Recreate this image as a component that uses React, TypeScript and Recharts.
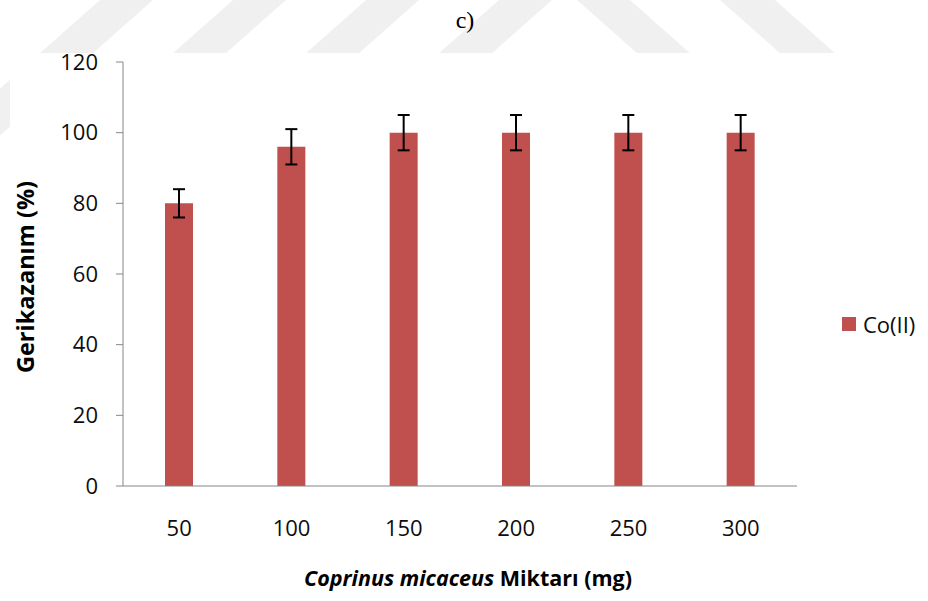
import { BarChart, Bar, XAxis, YAxis, ErrorBar, Legend } from 'recharts';

// Co(II) recovery per biosorbent amount
const amounts = ['50', '100', '150', '200', '250', '300'];
const recovery = [80, 96, 100, 100, 100, 100];
const recoveryErr = [4, 5, 5, 5, 5, 5];
const yTicks = [0, 20, 40, 60, 80, 100, 120];

const data = amounts.map((amount, i) => ({
  amount,
  co: recovery[i],
  err: recoveryErr[i],
}));

const BAR_COLOR = '#c0504d';
const AXIS_COLOR = '#868686';
const TEXT_COLOR = '#0d0d0d';
const FONT = '"Open Sans", "Noto Sans", sans-serif';

// faint diagonal watermark bands behind the figure
const band = (x0: number, x1: number, dir: number) => {
  const dx = 158 * dir;
  return `${x0},0 ${x1},0 ${x1 + dx},140 ${x0 + dx},140`;
};
const watermark = [
  band(100, 153, -1),
  band(233, 286, -1),
  band(366, 419, -1),
  band(499, 552, -1),
  band(577, 630, 1),
  band(720, 775, 1),
];

const CoLegend = () => (
  <div style={{ display: 'flex', alignItems: 'center', fontFamily: FONT }}>
    <span style={{ display: 'inline-block', width: 14, height: 14, background: BAR_COLOR, marginRight: 7 }} />
    <span style={{ fontSize: 22, color: TEXT_COLOR }}>Co(II)</span>
  </div>
);

export default function App() {
  return (
    <div
      style={{
        position: 'absolute',
        left: 0,
        top: 0,
        width: 928,
        height: 601,
        background: '#fff',
        overflow: 'hidden',
        fontFamily: FONT,
      }}
    >
      <svg width={928} height={601} style={{ position: 'absolute', left: 0, top: 0 }}>
        {watermark.map((pts, i) => (
          <polygon key={i} points={pts} fill="#f0f0f0" />
        ))}
        <rect x={10} y={53} width={918} height={548} fill="#fff" />
        <text
          x={465}
          y={28}
          textAnchor="middle"
          fontFamily='"Liberation Serif", "Times New Roman", serif'
          fontSize={24}
          fill="#000"
        >
          c)
        </text>
      </svg>
      <div style={{ position: 'absolute', left: 0, top: 0 }}>
        <BarChart
          width={928}
          height={601}
          data={data}
          margin={{ top: 62, right: 131, bottom: 85, left: 63 }}
        >
          <XAxis
            dataKey="amount"
            height={30}
            tickLine={false}
            tickSize={6}
            tickMargin={28}
            axisLine={{ stroke: AXIS_COLOR }}
            tick={{ fill: TEXT_COLOR, fontSize: 22, fontFamily: FONT }}
            label={{
              content: () => (
                <text
                  x={468}
                  y={586}
                  textAnchor="middle"
                  fontSize={21.5}
                  fontWeight="bold"
                  fill="#000"
                  fontFamily={FONT}
                >
                  <tspan fontStyle="italic">Coprinus micaceus</tspan> Miktarı (mg)
                </text>
              ),
            }}
          />
          <YAxis
            domain={[0, 120]}
            ticks={yTicks}
            interval={0}
            width={60}
            tickSize={7}
            tickMargin={18}
            axisLine={{ stroke: AXIS_COLOR }}
            tickLine={{ stroke: AXIS_COLOR }}
            tick={{ fill: TEXT_COLOR, fontSize: 22, fontFamily: FONT }}
            label={{
              content: () => (
                <text
                  x={34}
                  y={277}
                  transform="rotate(-90 34 277)"
                  textAnchor="middle"
                  fontSize={23.5}
                  fontWeight="bold"
                  fill="#000"
                  fontFamily={FONT}
                >
                  Gerikazanım (%)
                </text>
              ),
            }}
          />
          <Legend
            layout="horizontal"
            verticalAlign="middle"
            align="center"
            wrapperStyle={{ left: 842, top: 309, width: 90 }}
            content={() => <CoLegend />}
          />
          <Bar dataKey="co" name="Co(II)" fill={BAR_COLOR} barSize={28} isAnimationActive={false}>
            <ErrorBar dataKey="err" width={6} strokeWidth={2} stroke="#000" direction="y" />
          </Bar>
        </BarChart>
      </div>
    </div>
  );
}
